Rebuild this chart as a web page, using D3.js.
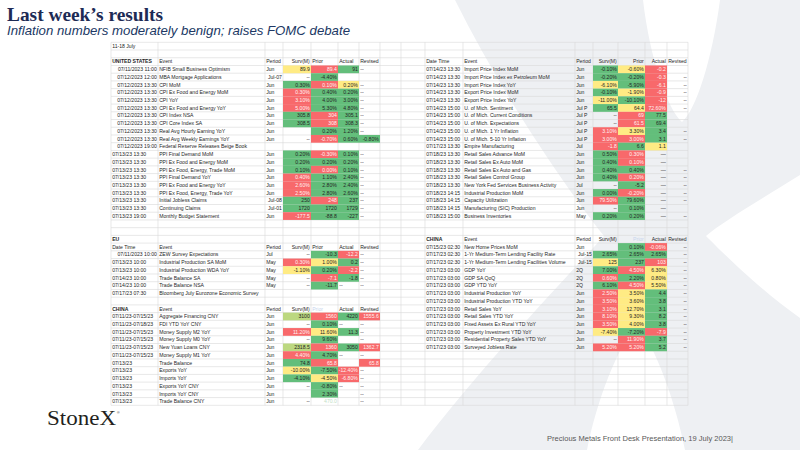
<!DOCTYPE html>
<html>
<head>
<meta charset="utf-8">
<script src="https://cdn.jsdelivr.net/npm/d3@7"></script>
<style>
  body { margin: 0; background: #fff; }
  svg { display: block; }
</style>
</head>
<body>
<div id="chart"></div>
<script>
const titleText = "Last week\u2019s results";
const subtitleText = "Inflation numbers moderately benign; raises FOMC debate";
const footerText = "Precious Metals Front Desk Presentation, 19 July 2023|";
const dateRange = "11-18 July";

// headers
const usHeader = ["UNITED STATES", "Event", "Period", "Surv(M)", "Prior", "Actual", "Revised"];
const dtHeader = ["Date Time", "Event", "Period", "Surv(M)", "Prior", "Actual", "Revised"];
const cnHeader = ["CHINA", "Event", "Period", "Surv(M)", "Prior", "Actual", "Revised"];

// rows: [date, event, period, surv, prior, actual, revised]
// fills: one letter per surv/prior/actual/revised cell
// g = better, r = worse, y = middle, l = light green, f = faded text, - = none
const usRows = [
  ["07/11/2023 11:00", "NFIB Small Business Optimism", "Jun", "89.9", "89.4", "91", "--"],
  ["07/12/2023 12:00", "MBA Mortgage Applications", "Jul-07", "--", "-4.40%", "", ""],
  ["07/12/2023 13:30", "CPI MoM", "Jun", "0.30%", "0.10%", "0.20%", "--"],
  ["07/12/2023 13:30", "CPI Ex Food and Energy MoM", "Jun", "0.30%", "0.40%", "0.20%", "--"],
  ["07/12/2023 13:30", "CPI YoY", "Jun", "3.10%", "4.00%", "3.00%", "--"],
  ["07/12/2023 13:30", "CPI Ex Food and Energy YoY", "Jun", "5.00%", "5.30%", "4.80%", "--"],
  ["07/12/2023 13:30", "CPI Index NSA", "Jun", "305.8", "304", "305.1", "--"],
  ["07/12/2023 13:30", "CPI Core Index SA", "Jun", "308.5", "308", "308.3", "--"],
  ["07/12/2023 13:30", "Real Avg Hourly Earning YoY", "Jun", "", "0.20%", "1.20%", "--"],
  ["07/12/2023 13:30", "Real Avg Weekly Earnings YoY", "Jun", "--", "-0.70%", "0.60%", "-0.80%"],
  ["07/12/2023 19:00", "Federal Reserve Releases Beige Book", "", "", "", "", ""],
  ["07/13/23 13:30", "PPI Final Demand MoM", "Jun", "0.20%", "-0.30%", "0.10%", "--"],
  ["07/13/23 13:30", "PPI Ex Food and Energy MoM", "Jun", "0.20%", "0.20%", "0.20%", "--"],
  ["07/13/23 13:30", "PPI Ex Food, Energy, Trade MoM", "Jun", "0.10%", "0.00%", "0.10%", "--"],
  ["07/13/23 13:30", "PPI Final Demand YoY", "Jun", "0.40%", "1.10%", "2.40%", "--"],
  ["07/13/23 13:30", "PPI Ex Food and Energy YoY", "Jun", "2.60%", "2.80%", "2.40%", "--"],
  ["07/13/23 13:30", "PPI Ex Food, Energy, Trade YoY", "Jun", "2.50%", "2.80%", "2.60%", "--"],
  ["07/13/23 13:30", "Initial Jobless Claims", "Jul-08", "250", "248", "237", "--"],
  ["07/13/23 13:30", "Continuing Claims", "Jul-01", "1720", "1720", "1729", "--"],
  ["07/13/23 19:00", "Monthly Budget Statement", "Jun", "-177.5", "-88.8", "-227", "--"]
];
const usFills = ["yrg-", "-g--", "gry-", "rgg-", "rgg-", "rgg-", "grg-", "grg-", "-gg-", "-rgg",
  "----", "grg-", "ggg-", "grg-", "rgg-", "rgg-", "rgg-", "grg-", "ggg-", "rgg-"];

const euRows = [
  ["07/11/2023 10:00", "ZEW Survey Expectations", "Jul", "--", "-10.3", "-12.2", "--"],
  ["07/13/23 10:00", "Industrial Production SA MoM", "May", "0.30%", "1.00%", "0.2", "--"],
  ["07/13/23 10:00", "Industrial Production WDA YoY", "May", "-1.10%", "0.20%", "-2.2", "--"],
  ["07/14/23 10:00", "Trade Balance SA", "May", "--", "-7.1", "-1.8", "--"],
  ["07/14/23 10:00", "Trade Balance NSA", "May", "--", "-11.7", "--", "--"],
  ["07/17/23 07:30", "Bloomberg July Eurozone Economic Survey", "", "", "", "", ""]
];
const euFills = ["-gr-", "ryg-", "ygr-", "-rg-", "-g--", "----"];

const cnRows = [
  ["07/11/23-07/15/23", "Aggregate Financing CNY", "Jun", "3100", "1560", "4220", "1555.6"],
  ["07/11/23-07/18/23", "FDI YTD YoY CNY", "Jun", "--", "0.10%", "--", "--"],
  ["07/11/23-07/15/23", "Money Supply M2 YoY", "Jun", "11.20%", "11.60%", "11.3", "--"],
  ["07/11/23-07/15/23", "Money Supply M0 YoY", "Jun", "--", "9.60%", "", "--"],
  ["07/11/23-07/15/23", "New Yuan Loans CNY", "Jun", "2318.5", "1360", "3050", "1362.7"],
  ["07/11/23-07/15/23", "Money Supply M1 YoY", "Jun", "4.40%", "4.70%", "--", "--"],
  ["07/13/23", "Trade Balance", "Jun", "74.8", "65.8", "", "65.8"],
  ["07/13/23", "Exports YoY", "Jun", "-10.00%", "-7.50%", "-12.40%", "--"],
  ["07/13/23", "Imports YoY", "Jun", "-4.10%", "-4.50%", "-6.80%", "--"],
  ["07/13/23", "Exports YoY CNY", "Jun", "--", "-0.80%", "--", "--"],
  ["07/13/23", "Imports YoY CNY", "Jun", "", "2.30%", "", "--"],
  ["07/13/23", "Trade Balance CNY", "Jun", "--", "470.0", "", "--"]
];
const cnFills = ["lrgr", "-g--", "ryg-", "-g--", "lrgr", "rg--", "gr-r", "ygr-", "gyr-", "-g--", "-g--", "-f--"];

const usRightRows = [
  ["07/14/23 13:30", "Import Price Index MoM", "Jun", "-0.10%", "-0.60%", "-0.2", ""],
  ["07/14/23 13:30", "Import Price Index ex Petroleum MoM", "Jun", "-0.20%", "-0.20%", "-0.3", "--"],
  ["07/14/23 13:30", "Import Price Index YoY", "Jun", "-6.10%", "-5.90%", "-6.1", "--"],
  ["07/14/23 13:30", "Export Price Index MoM", "Jun", "-0.10%", "-1.90%", "-0.9", "--"],
  ["07/14/23 13:30", "Export Price Index YoY", "Jun", "-11.00%", "-10.10%", "-12", "--"],
  ["07/14/23 15:00", "U. of Mich. Sentiment", "Jul P", "65.5", "64.4", "72.60%", "--"],
  ["07/14/23 15:00", "U. of Mich. Current Conditions", "Jul P", "--", "69", "77.5", ""],
  ["07/14/23 15:00", "U. of Mich. Expectations", "Jul P", "--", "61.5", "69.4", ""],
  ["07/14/23 15:00", "U. of Mich. 1 Yr Inflation", "Jul P", "3.10%", "3.30%", "3.4", "--"],
  ["07/14/23 15:00", "U. of Mich. 5-10 Yr Inflation", "Jul P", "3.00%", "3.00%", "3.1", "--"],
  ["07/17/23 13:30", "Empire Manufacturing", "Jul", "-1.8", "6.6", "1.1", ""],
  ["07/18/23 13:30", "Retail Sales Advance MoM", "Jun", "0.50%", "0.30%", "\u2014", ""],
  ["07/18/23 13:30", "Retail Sales Ex Auto MoM", "Jun", "0.40%", "0.10%", "\u2014", ""],
  ["07/18/23 13:30", "Retail Sales Ex Auto and Gas", "Jun", "0.40%", "0.40%", "\u2014", "--"],
  ["07/18/23 13:30", "Retail Sales Control Group", "Jun", "0.40%", "0.20%", "\u2014", "--"],
  ["07/18/23 13:30", "New York Fed Services Business Activity", "Jul", "--", "-5.2", "\u2014", "--"],
  ["07/18/23 14:15", "Industrial Production MoM", "Jun", "0.00%", "-0.20%", "\u2014", "--"],
  ["07/18/23 14:15", "Capacity Utilization", "Jun", "79.50%", "79.60%", "\u2014", "--"],
  ["07/18/23 14:15", "Manufacturing (SIC) Production", "Jun", "--", "0.10%", "\u2014", ""],
  ["07/18/23 15:00", "Business Inventories", "May", "0.20%", "0.20%", "\u2014", "--"]
];
const usRightFills = ["gyr-", "ggr-", "ygr-", "gyr-", "ygr-", "gyr-", "-rg-", "-rg-", "ryg-", "rrg-",
  "rgy-", "gr--", "gr--", "gg--", "gr--", "-g--", "gr--", "rg--", "-g--", "gg--"];

const cnRightRows = [
  ["07/15/23 02:30", "New Home Prices MoM", "Jun", "", "0.10%", "-0.06%", "--"],
  ["07/17/23 02:30", "1-Yr Medium-Term Lending Facility Rate", "Jul-15", "2.65%", "2.65%", "2.65%", "--"],
  ["07/17/23 02:30", "1-Yr Medium-Term Lending Facilities Volume", "Jul-15", "125", "237", "103", "--"],
  ["07/17/23 03:00", "GDP YoY", "2Q", "7.00%", "4.50%", "6.30%", "--"],
  ["07/17/23 03:00", "GDP SA QoQ", "2Q", "0.60%", "2.20%", "0.80%", "--"],
  ["07/17/23 03:00", "GDP YTD YoY", "2Q", "6.10%", "4.50%", "5.50%", "--"],
  ["07/17/23 03:00", "Industrial Production YoY", "Jun", "2.50%", "3.50%", "4.4", "--"],
  ["07/17/23 03:00", "Industrial Production YTD YoY", "Jun", "3.50%", "3.60%", "3.8", "--"],
  ["07/17/23 03:00", "Retail Sales YoY", "Jun", "3.10%", "12.70%", "3.1", "--"],
  ["07/17/23 03:00", "Retail Sales YTD YoY", "Jun", "8.10%", "9.30%", "8.2", "--"],
  ["07/17/23 03:00", "Fixed Assets Ex Rural YTD YoY", "Jun", "3.50%", "4.00%", "3.8", "--"],
  ["07/17/23 03:00", "Property Investment YTD YoY", "Jun", "-7.40%", "-7.20%", "-7.9", "--"],
  ["07/17/23 03:00", "Residential Property Sales YTD YoY", "Jun", "--", "11.90%", "3.7", "--"],
  ["07/17/23 03:00", "Surveyed Jobless Rate", "Jun", "5.20%", "5.20%", "5.2", "--"]
];
const cnRightFills = ["-gr-", "ggg-", "ygr-", "gry-", "rgy-", "gry-", "ryg-", "ryg-", "ryg-", "ryg-",
  "ryg-", "ygr-", "-rg-", "rrg-"];

// layout of the sheet
const width = 800, height = 450;
const rowCount = 47;
const leftCols = [111, 158, 265, 283, 311, 338, 359, 380];
const rightCols = [425, 463, 575, 593, 618, 645, 667, 688];
const gridCols = leftCols.concat([401], rightCols);

const svg = d3.select("#chart").append("svg")
    .attr("width", width)
    .attr("height", height)
    .attr("viewBox", [0, 0, width, height]);

// Faint StoneX "X" behind the sheet
svg.append("path")
    .attr("fill", "#eef0f3")
    .attr("d", "M455,0 L643,0 C650,60 668,110 682,122 C696,110 712,60 720,0 L800,0 L800,175 " +
        "C760,200 722,222 706,236 C722,252 760,290 800,318 L800,450 L685,450 " +
        "C675,400 655,345 637,326 C618,345 597,400 587,450 L418,450 " +
        "C470,380 545,300 604,236 C560,180 500,90 455,0 Z");

const y = d3.scaleBand()
    .domain(d3.range(rowCount))
    .range([42.3, 405.3]);

const fillColor = d3.scaleOrdinal()
    .domain(["g", "r", "y", "l"])
    .range(["#63be7b", "#f8696b", "#ffeb84", "#bcd880"]);

// Gridlines
const grid = svg.append("g")
    .attr("stroke", "#d9d9d9")
    .attr("stroke-width", 0.6);

grid.selectAll("line.h")
    .data(d3.range(rowCount + 1))
    .enter().append("line")
        .attr("x1", gridCols[0])
        .attr("x2", gridCols[gridCols.length - 1])
        .attr("y1", r => r < rowCount ? y(r) : y(rowCount - 1) + y.bandwidth())
        .attr("y2", r => r < rowCount ? y(r) : y(rowCount - 1) + y.bandwidth());

grid.selectAll("line.v")
    .data(gridCols)
    .enter().append("line")
        .attr("x1", d => d)
        .attr("x2", d => d)
        .attr("y1", y(0))
        .attr("y2", y(rowCount - 1) + y.bandwidth());

// Build a flat list of cells for every block of the sheet
const blocks = [
    { cols: leftCols, side: "L", headRow: 2, head: usHeader, rows: usRows, fills: usFills },
    { cols: leftCols, side: "L", headRow: 26, head: dtHeader, rows: euRows, fills: euFills },
    { cols: leftCols, side: "L", headRow: 34, head: cnHeader, rows: cnRows, fills: cnFills },
    { cols: rightCols, side: "R", headRow: 2, head: dtHeader, rows: usRightRows, fills: usRightFills },
    { cols: rightCols, side: "R", headRow: 25, head: cnHeader, rows: cnRightRows, fills: cnRightFills }
];

let cells = [];
cells.push({ row: 0, x0: leftCols[0], x1: leftCols[1], text: dateRange, align: "start", fill: "-" });
cells.push({ row: 25, x0: leftCols[0], x1: leftCols[1], text: "EU", align: "start", fill: "-", bold: true });

blocks.forEach(block => {
    block.head.forEach((text, c) => {
        let align = "start";
        if (c == 3 || (block.side == "R" && (c == 4 || c == 5))) {
            align = "end";
        }
        cells.push({
            row: block.headRow,
            x0: block.cols[c],
            x1: block.cols[c + 1],
            text: text,
            align: align,
            fill: (text == "Prior" && block.head == cnHeader) ? "h" : "-",
            bold: c == 0 && text != "Date Time"
        });
    });
    block.rows.forEach((row, i) => {
        row.forEach((text, c) => {
            let align = "start";
            if (c == 0 && text.indexOf("/2023") > -1) align = "end";
            if (c == 2 && text.indexOf("-") > -1) align = "end";
            if (c >= 3) {
                align = "end";
                if (block.side == "L" && c >= 5 && text == "--") align = "start";
            }
            cells.push({
                row: block.headRow + 1 + i,
                x0: block.cols[c],
                x1: block.cols[c + 1],
                text: text,
                align: align,
                fill: c >= 3 ? block.fills[i][c - 3] : "-"
            });
        });
    });
});

// Coloured cells
svg.append("g").selectAll("rect")
    .data(cells.filter(d => "gryl".indexOf(d.fill) > -1))
    .enter().append("rect")
        .attr("x", d => d.x0)
        .attr("y", d => y(d.row))
        .attr("width", d => d.x1 - d.x0)
        .attr("height", y.bandwidth())
        .attr("fill", d => fillColor(d.fill));

// Cell texts
svg.append("g")
    .attr("font-family", "'Liberation Sans', Arial, sans-serif")
    .attr("font-size", 5.1)
    .selectAll("text")
    .data(cells.filter(d => d.text != ""))
    .enter().append("text")
        .attr("x", d => d.align == "end" ? d.x1 - 1.2 : d.x0 + 1.2)
        .attr("y", d => y(d.row) + y.bandwidth() / 2 + 1.8)
        .attr("text-anchor", d => d.align)
        .attr("font-weight", d => d.bold ? "bold" : "normal")
        .attr("fill", d => {
            if (d.fill == "r") return "#fff2f2";
            if (d.fill == "f") return "#bfe0c6";
            if (d.fill == "h") return "#c7d5ee";
            return "#262626";
        })
        .text(d => d.text);

// Title and subtitle
svg.append("text")
    .attr("x", 7)
    .attr("y", 20.5)
    .attr("font-family", "'Liberation Serif', 'DejaVu Serif', serif")
    .attr("font-weight", "bold")
    .attr("font-size", 19.5)
    .attr("fill", "#1d2b55")
    .attr("textLength", 156)
    .attr("lengthAdjust", "spacingAndGlyphs")
    .text(titleText);

svg.append("text")
    .attr("x", 7)
    .attr("y", 35)
    .attr("font-family", "'Liberation Sans', Arial, sans-serif")
    .attr("font-style", "italic")
    .attr("font-size", 13.5)
    .attr("fill", "#203864")
    .attr("textLength", 343)
    .attr("lengthAdjust", "spacingAndGlyphs")
    .text(subtitleText);

// Footer
svg.append("text")
    .attr("x", 47)
    .attr("y", 425)
    .attr("font-family", "'Liberation Serif', 'DejaVu Serif', serif")
    .attr("font-size", 20)
    .attr("fill", "#231f20")
    .attr("textLength", 69)
    .attr("lengthAdjust", "spacingAndGlyphs")
    .text("StoneX");

svg.append("text")
    .attr("x", 117)
    .attr("y", 414)
    .attr("font-family", "'Liberation Sans', Arial, sans-serif")
    .attr("font-size", 3.5)
    .attr("fill", "#231f20")
    .text("\u00ae");

svg.append("text")
    .attr("x", 547)
    .attr("y", 440.5)
    .attr("font-family", "'Liberation Sans', Arial, sans-serif")
    .attr("font-size", 8)
    .attr("fill", "#595959")
    .attr("textLength", 186)
    .attr("lengthAdjust", "spacingAndGlyphs")
    .text(footerText);
</script>
</body>
</html>
